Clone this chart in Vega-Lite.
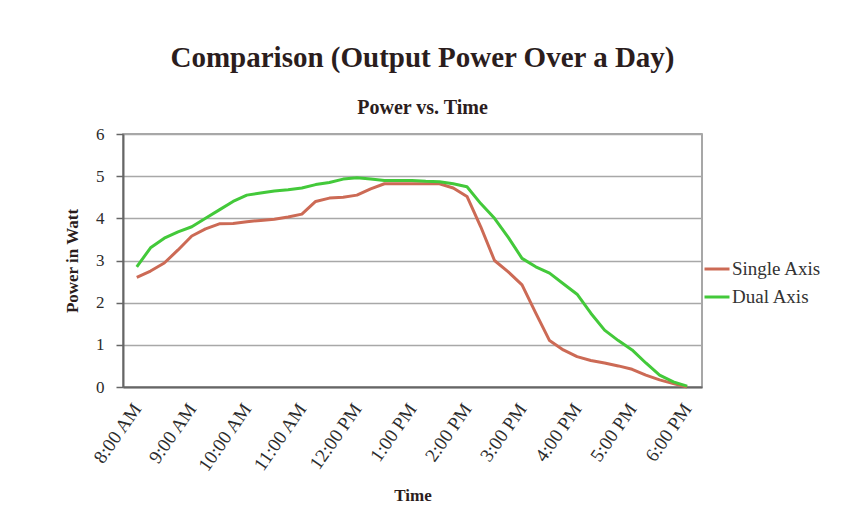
{
  "$schema": "https://vega.github.io/schema/vega-lite/v6.json",
  "autosize": "none",
  "width": 579,
  "height": 253,
  "padding": {"left": 123, "top": 134, "right": 147, "bottom": 128},
  "background": "white",
  "title": {
    "text": "Comparison (Output Power Over a Day)",
    "subtitle": "Power vs. Time",
    "font": "Liberation Serif",
    "fontSize": 29,
    "fontWeight": "bold",
    "color": "#2b1d1d",
    "subtitleFont": "Liberation Serif",
    "subtitleFontSize": 20,
    "subtitleFontWeight": "bold",
    "subtitleColor": "#2b1d1d",
    "subtitlePadding": 25,
    "anchor": "middle",
    "frame": "group",
    "offset": 7,
    "dx": 10
  },
  "config": {
    "view": {"stroke": "#8a8a8a", "strokeWidth": 1.5},
    "axis": {
      "labelFont": "Liberation Serif",
      "titleFont": "Liberation Serif",
      "labelColor": "#2b2b2b",
      "titleColor": "#2b1d1d",
      "domainColor": "#666666",
      "domainWidth": 2,
      "tickColor": "#666666",
      "gridColor": "#a8a8a8",
      "gridWidth": 1.3
    }
  },
  "data": {
    "values": [
      {"t": 8.0, "series": "Single Axis", "power": 2.6},
      {"t": 8.25, "series": "Single Axis", "power": 2.75},
      {"t": 8.5, "series": "Single Axis", "power": 2.94},
      {"t": 8.75, "series": "Single Axis", "power": 3.25},
      {"t": 9.0, "series": "Single Axis", "power": 3.58},
      {"t": 9.25, "series": "Single Axis", "power": 3.75},
      {"t": 9.5, "series": "Single Axis", "power": 3.87},
      {"t": 9.75, "series": "Single Axis", "power": 3.88},
      {"t": 10.0, "series": "Single Axis", "power": 3.92},
      {"t": 10.25, "series": "Single Axis", "power": 3.95},
      {"t": 10.5, "series": "Single Axis", "power": 3.98},
      {"t": 10.75, "series": "Single Axis", "power": 4.03},
      {"t": 11.0, "series": "Single Axis", "power": 4.1},
      {"t": 11.25, "series": "Single Axis", "power": 4.4},
      {"t": 11.5, "series": "Single Axis", "power": 4.48},
      {"t": 11.75, "series": "Single Axis", "power": 4.5},
      {"t": 12.0, "series": "Single Axis", "power": 4.55},
      {"t": 12.25, "series": "Single Axis", "power": 4.7},
      {"t": 12.5, "series": "Single Axis", "power": 4.82},
      {"t": 12.75, "series": "Single Axis", "power": 4.82},
      {"t": 13.0, "series": "Single Axis", "power": 4.82},
      {"t": 13.25, "series": "Single Axis", "power": 4.82},
      {"t": 13.5, "series": "Single Axis", "power": 4.82},
      {"t": 13.75, "series": "Single Axis", "power": 4.72},
      {"t": 14.0, "series": "Single Axis", "power": 4.52},
      {"t": 14.25, "series": "Single Axis", "power": 3.8},
      {"t": 14.5, "series": "Single Axis", "power": 3.0},
      {"t": 14.75, "series": "Single Axis", "power": 2.73},
      {"t": 15.0, "series": "Single Axis", "power": 2.42},
      {"t": 15.25, "series": "Single Axis", "power": 1.75},
      {"t": 15.5, "series": "Single Axis", "power": 1.1},
      {"t": 15.75, "series": "Single Axis", "power": 0.88},
      {"t": 16.0, "series": "Single Axis", "power": 0.72},
      {"t": 16.25, "series": "Single Axis", "power": 0.63},
      {"t": 16.5, "series": "Single Axis", "power": 0.57},
      {"t": 16.75, "series": "Single Axis", "power": 0.5},
      {"t": 17.0, "series": "Single Axis", "power": 0.42},
      {"t": 17.25, "series": "Single Axis", "power": 0.28},
      {"t": 17.5, "series": "Single Axis", "power": 0.17},
      {"t": 17.75, "series": "Single Axis", "power": 0.08},
      {"t": 18.0, "series": "Single Axis", "power": 0.0},
      {"t": 8.0, "series": "Dual Axis", "power": 2.85},
      {"t": 8.25, "series": "Dual Axis", "power": 3.3},
      {"t": 8.5, "series": "Dual Axis", "power": 3.53},
      {"t": 8.75, "series": "Dual Axis", "power": 3.68},
      {"t": 9.0, "series": "Dual Axis", "power": 3.8},
      {"t": 9.25, "series": "Dual Axis", "power": 4.0},
      {"t": 9.5, "series": "Dual Axis", "power": 4.2},
      {"t": 9.75, "series": "Dual Axis", "power": 4.4},
      {"t": 10.0, "series": "Dual Axis", "power": 4.55},
      {"t": 10.25, "series": "Dual Axis", "power": 4.6},
      {"t": 10.5, "series": "Dual Axis", "power": 4.65},
      {"t": 10.75, "series": "Dual Axis", "power": 4.68},
      {"t": 11.0, "series": "Dual Axis", "power": 4.72},
      {"t": 11.25, "series": "Dual Axis", "power": 4.8},
      {"t": 11.5, "series": "Dual Axis", "power": 4.85},
      {"t": 11.75, "series": "Dual Axis", "power": 4.93},
      {"t": 12.0, "series": "Dual Axis", "power": 4.96},
      {"t": 12.25, "series": "Dual Axis", "power": 4.93},
      {"t": 12.5, "series": "Dual Axis", "power": 4.9},
      {"t": 12.75, "series": "Dual Axis", "power": 4.9},
      {"t": 13.0, "series": "Dual Axis", "power": 4.9},
      {"t": 13.25, "series": "Dual Axis", "power": 4.88},
      {"t": 13.5, "series": "Dual Axis", "power": 4.87},
      {"t": 13.75, "series": "Dual Axis", "power": 4.82},
      {"t": 14.0, "series": "Dual Axis", "power": 4.75},
      {"t": 14.25, "series": "Dual Axis", "power": 4.35},
      {"t": 14.5, "series": "Dual Axis", "power": 4.0},
      {"t": 14.75, "series": "Dual Axis", "power": 3.55},
      {"t": 15.0, "series": "Dual Axis", "power": 3.05},
      {"t": 15.25, "series": "Dual Axis", "power": 2.85},
      {"t": 15.5, "series": "Dual Axis", "power": 2.7},
      {"t": 15.75, "series": "Dual Axis", "power": 2.45},
      {"t": 16.0, "series": "Dual Axis", "power": 2.2},
      {"t": 16.25, "series": "Dual Axis", "power": 1.75},
      {"t": 16.5, "series": "Dual Axis", "power": 1.35},
      {"t": 16.75, "series": "Dual Axis", "power": 1.1},
      {"t": 17.0, "series": "Dual Axis", "power": 0.88},
      {"t": 17.25, "series": "Dual Axis", "power": 0.57},
      {"t": 17.5, "series": "Dual Axis", "power": 0.28},
      {"t": 17.75, "series": "Dual Axis", "power": 0.12},
      {"t": 18.0, "series": "Dual Axis", "power": 0.02}
    ]
  },
  "mark": {"type": "line", "strokeWidth": 3, "strokeJoin": "round", "interpolate": "linear"},
  "encoding": {
    "x": {
      "field": "t",
      "type": "quantitative",
      "scale": {"domain": [7.75, 18.27], "nice": false, "zero": false},
      "axis": {
        "title": "Time",
        "titleFontSize": 17,
        "titleFontWeight": "bold",
        "titlePadding": 12,
        "values": [8, 9, 10, 11, 12, 13, 14, 15, 16, 17, 18],
        "labelExpr": "(datum.value > 12 ? datum.value - 12 : datum.value) + ':00 ' + (datum.value >= 12 ? 'PM' : 'AM')",
        "labelAngle": -55,
        "labelAlign": "right",
        "labelBaseline": "middle",
        "labelFontSize": 19,
        "labelPadding": 18,
        "labelFlush": false,
        "labelOverlap": false,
        "ticks": false,
        "grid": false
      }
    },
    "y": {
      "field": "power",
      "type": "quantitative",
      "scale": {"domain": [0, 6], "nice": false},
      "axis": {
        "title": "Power in Watt",
        "titleFontSize": 17,
        "titleFontWeight": "bold",
        "titlePadding": 14,
        "values": [0, 1, 2, 3, 4, 5, 6],
        "labelFontSize": 17,
        "labelPadding": 12,
        "tickSize": 7,
        "tickWidth": 1.5,
        "grid": true
      }
    },
    "color": {
      "field": "series",
      "type": "nominal",
      "scale": {"domain": ["Single Axis", "Dual Axis"], "range": ["#cc6a55", "#43c93a"]},
      "legend": {
        "title": null,
        "orient": "none",
        "legendX": 580,
        "legendY": 121,
        "symbolType": "stroke",
        "symbolSize": 625,
        "symbolStrokeWidth": 3,
        "labelFont": "Liberation Serif",
        "labelFontSize": 19,
        "labelColor": "#333333",
        "labelOffset": 1,
        "rowPadding": 4
      }
    },
    "order": {"field": "series", "sort": "ascending"}
  }
}
